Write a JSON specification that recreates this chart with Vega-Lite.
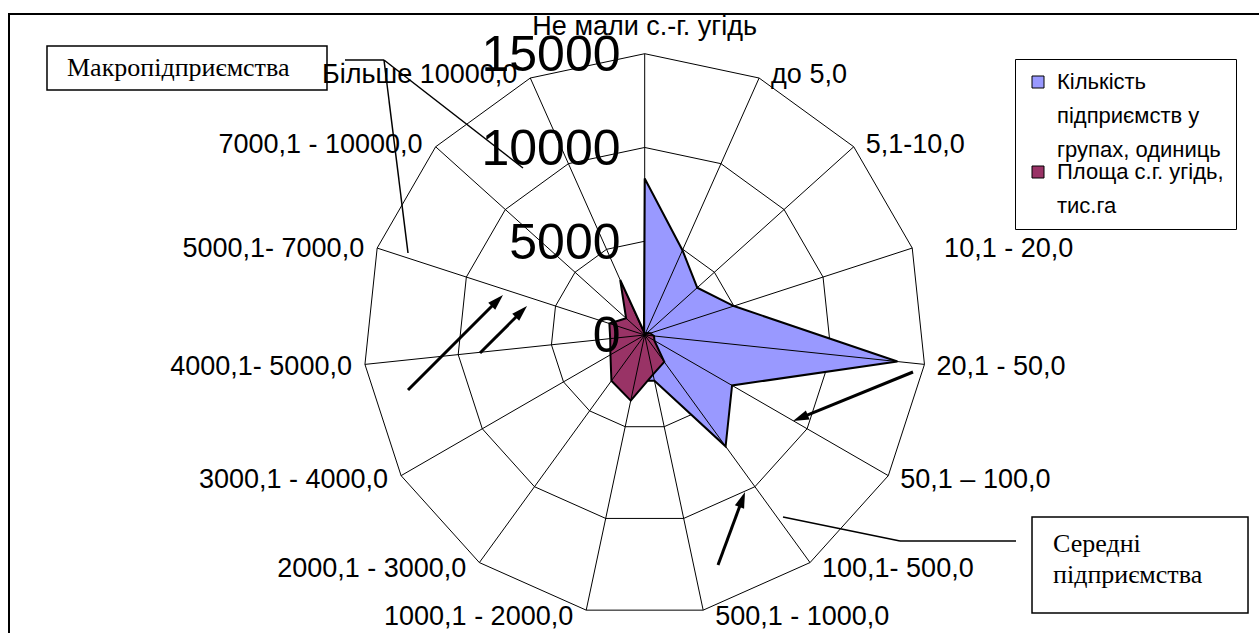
{
  "$schema": "https://vega.github.io/schema/vega-lite/v6.json",
  "width": 1259,
  "height": 633,
  "autosize": {"type": "none"},
  "padding": 0,
  "background": "white",
  "config": {
    "view": {"stroke": null},
    "font": "Liberation Sans",
    "style": {"guide-label": {"lineHeight": 34}}
  },
  "datasets": {
    "groups": [
      {"idx": 0, "cat": "Не мали с.-г. угідь", "count": 8350, "area": 100},
      {"idx": 1, "cat": "до 5,0", "count": 4950, "area": 100},
      {"idx": 2, "cat": "5,1-10,0", "count": 3770, "area": 150},
      {"idx": 3, "cat": "10,1 - 20,0", "count": 5000, "area": 300},
      {"idx": 4, "cat": "20,1 - 50,0", "count": 13550, "area": 500},
      {"idx": 5, "cat": "50,1 – 100,0", "count": 5380, "area": 600},
      {"idx": 6, "cat": "100,1- 500,0", "count": 7340, "area": 1775},
      {"idx": 7, "cat": "500,1 - 1000,0", "count": 2500, "area": 2150},
      {"idx": 8, "cat": "1000,1 - 2000,0", "count": 2500, "area": 3575},
      {"idx": 9, "cat": "2000,1 - 3000,0", "count": 1500, "area": 3020},
      {"idx": 10, "cat": "3000,1 - 4000,0", "count": 800, "area": 2110},
      {"idx": 11, "cat": "4000,1- 5000,0", "count": 500, "area": 1850},
      {"idx": 12, "cat": "5000,1- 7000,0", "count": 300, "area": 1980},
      {"idx": 13, "cat": "7000,1 - 10000,0", "count": 200, "area": 1335},
      {"idx": 14, "cat": "Більше 10000,0", "count": 100, "area": 3210}
    ],
    "frame": [{"px": -33898, "py": 17117, "px2": 33345, "py2": -16797}],
    "boxes": [
      {"name": "macro", "px": -31872, "py": 15411, "px2": -16941, "py2": 13065},
      {"name": "mid", "px": 20653, "py": -9705, "px2": 32171, "py2": -14824}
    ],
    "notes": [
      {"px": -30806, "py": 14238, "text": "Макропідприємства"},
      {"px": 21773, "py": -11145, "text": "Середні"},
      {"px": 21773, "py": -12798, "text": "підприємства"}
    ],
    "connectors": [
      {"px": -15982, "py": 14664, "px2": -13902, "py2": 14664},
      {"px": -13902, "py": 14664, "px2": -6490, "py2": 8905},
      {"px": -13902, "py": 14664, "px2": -12622, "py2": 4373},
      {"px": 19800, "py": -10985, "px2": 13614, "py2": -10985},
      {"px": 13614, "py": -10985, "px2": 7375, "py2": -9705}
    ],
    "arrows": [
      {"px": -12622, "py": -2933, "px2": -7556, "py2": 2133},
      {"px": -8783, "py": -960, "px2": -6276, "py2": 1546},
      {"px": 14307, "py": -1973, "px2": 7908, "py2": -4586},
      {"px": 3909, "py": -12265, "px2": 5349, "py2": -8372}
    ]
  },
  "encoding": {
    "x": {"field": "px", "type": "quantitative", "scale": {"domain": [-34378, 32757], "nice": false, "zero": false}, "axis": null},
    "y": {
      "field": "py", "type": "quantitative",
      "scale": {"domain": [-15891, 17864], "nice": false, "zero": false},
      "axis": {
        "values": [0, 5000, 10000, 15000], "format": "d", "orient": "left", "offset": -620,
        "domain": false, "ticks": false, "tickSize": 0, "grid": false, "title": null,
        "labelFont": "Liberation Sans", "labelFontSize": 50, "labelColor": "black",
        "labelPadding": 0, "labelBaseline": "middle", "labelOffset": 2,
        "labelFlush": false, "labelOverlap": false, "labelAlign": "right", "zindex": 1
      }
    }
  },
  "layer": [
    {
      "data": {"name": "frame"},
      "mark": {"type": "rect", "fill": null, "stroke": "black", "strokeWidth": 2},
      "encoding": {"x2": {"field": "px2"}, "y2": {"field": "py2"}}
    },
    {
      "data": {"name": "groups"},
      "transform": [
        {"calculate": "[5000, 10000, 15000]", "as": "lv"},
        {"flatten": ["lv"]},
        {"calculate": "datum.idx * 2 * PI / 15", "as": "th"},
        {"calculate": "datum.lv * sin(datum.th)", "as": "px"},
        {"calculate": "datum.lv * cos(datum.th)", "as": "py"}
      ],
      "mark": {"type": "line", "interpolate": "linear-closed", "stroke": "black", "strokeWidth": 1},
      "encoding": {
        "detail": {"field": "lv", "type": "nominal"},
        "order": {"field": "idx", "type": "quantitative"}
      }
    },
    {
      "data": {"name": "groups"},
      "transform": [
        {"fold": ["count", "area"], "as": ["key", "value"]},
        {"filter": "datum.key == 'count'"},
        {"calculate": "datum.key == 'count' ? 'Кількість підприємств у групах, одиниць' : 'Площа с.г. угідь, тис.га'", "as": "series"},
        {"calculate": "datum.idx * 2 * PI / 15", "as": "th"},
        {"calculate": "datum.value * sin(datum.th)", "as": "px"},
        {"calculate": "datum.value * cos(datum.th)", "as": "py"}
      ],
      "mark": {"type": "line", "interpolate": "linear-closed", "stroke": "black", "strokeWidth": 2},
      "encoding": {
        "fill": {
          "field": "series", "type": "nominal",
          "scale": {"domain": ["Кількість підприємств у групах, одиниць", "Площа с.г. угідь, тис.га"], "range": ["#9999ff", "#993366"]},
          "legend": {
            "orient": "none", "legendX": 1015, "legendY": 59, "title": null,
            "symbolType": "square", "symbolSize": 144, "symbolStrokeColor": "black", "symbolStrokeWidth": 1,
            "labelFont": "Liberation Sans", "labelFontSize": 22, "labelColor": "black", "labelLimit": 0,
            "strokeColor": "black", "fillColor": "white", "padding": 12, "rowPadding": -36, "labelOffset": 8,
            "labelExpr": "datum.label == 'Площа с.г. угідь, тис.га' ? ['Площа с.г. угідь,', 'тис.га'] : ['Кількість', 'підприємств у', 'групах, одиниць']"
          }
        },
        "order": {"field": "idx", "type": "quantitative"}
      }
    },
    {
      "data": {"name": "groups"},
      "transform": [
        {"fold": ["count", "area"], "as": ["key", "value"]},
        {"filter": "datum.key == 'area'"},
        {"calculate": "datum.key == 'count' ? 'Кількість підприємств у групах, одиниць' : 'Площа с.г. угідь, тис.га'", "as": "series"},
        {"calculate": "datum.idx * 2 * PI / 15", "as": "th"},
        {"calculate": "datum.value * sin(datum.th)", "as": "px"},
        {"calculate": "datum.value * cos(datum.th)", "as": "py"}
      ],
      "mark": {"type": "line", "interpolate": "linear-closed", "stroke": "black", "strokeWidth": 2},
      "encoding": {
        "fill": {
          "field": "series", "type": "nominal",
          "scale": {"domain": ["Кількість підприємств у групах, одиниць", "Площа с.г. угідь, тис.га"], "range": ["#9999ff", "#993366"]},
          "legend": {
            "orient": "none", "legendX": 1015, "legendY": 59, "title": null,
            "symbolType": "square", "symbolSize": 144, "symbolStrokeColor": "black", "symbolStrokeWidth": 1,
            "labelFont": "Liberation Sans", "labelFontSize": 22, "labelColor": "black", "labelLimit": 0,
            "strokeColor": "black", "fillColor": "white", "padding": 12, "rowPadding": -36, "labelOffset": 8,
            "labelExpr": "datum.label == 'Площа с.г. угідь, тис.га' ? ['Площа с.г. угідь,', 'тис.га'] : ['Кількість', 'підприємств у', 'групах, одиниць']"
          }
        },
        "order": {"field": "idx", "type": "quantitative"}
      }
    },
    {
      "data": {"name": "groups"},
      "transform": [
        {"calculate": "datum.idx * 2 * PI / 15", "as": "th"},
        {"calculate": "0", "as": "px"},
        {"calculate": "0", "as": "py"},
        {"calculate": "15000 * sin(datum.th)", "as": "px2"},
        {"calculate": "15000 * cos(datum.th)", "as": "py2"}
      ],
      "mark": {"type": "rule", "stroke": "black", "strokeWidth": 1},
      "encoding": {"x2": {"field": "px2"}, "y2": {"field": "py2"}}
    },
    {
      "data": {"name": "boxes"},
      "mark": {"type": "rect", "fill": "white", "stroke": "black", "strokeWidth": 1.5},
      "encoding": {"x2": {"field": "px2"}, "y2": {"field": "py2"}}
    },
    {
      "data": {"name": "notes"},
      "mark": {"type": "text", "align": "left", "baseline": "middle", "font": "Liberation Serif", "fontSize": 26, "color": "black"},
      "encoding": {"text": {"field": "text"}}
    },
    {
      "data": {"name": "groups"},
      "transform": [
        {"filter": "datum.idx == 0"},
        {"calculate": "0", "as": "px"},
        {"calculate": "16440", "as": "py"}
      ],
      "mark": {"type": "text", "align": "center", "baseline": "middle", "font": "Liberation Sans", "fontSize": 27, "color": "black"},
      "encoding": {"text": {"field": "cat"}}
    },
    {
      "data": {"name": "groups"},
      "transform": [
        {"filter": "datum.idx >= 1 && datum.idx <= 7"},
        {"calculate": "datum.idx * 2 * PI / 15", "as": "th"},
        {"calculate": "15000 * sin(datum.th) + (datum.idx == 3 ? 1060 : 0)", "as": "px"},
        {"calculate": "15000 * cos(datum.th) - (5 * (1 - cos(datum.th)) - 3) * 53.325", "as": "py"}
      ],
      "mark": {"type": "text", "align": "left", "baseline": "middle", "dx": 12, "font": "Liberation Sans", "fontSize": 27, "color": "black"},
      "encoding": {"text": {"field": "cat"}}
    },
    {
      "data": {"name": "groups"},
      "transform": [
        {"filter": "datum.idx >= 8"},
        {"calculate": "datum.idx * 2 * PI / 15", "as": "th"},
        {"calculate": "15000 * sin(datum.th)", "as": "px"},
        {"calculate": "15000 * cos(datum.th) - (5 * (1 - cos(datum.th)) - 3) * 53.325", "as": "py"}
      ],
      "mark": {"type": "text", "align": "right", "baseline": "middle", "dx": -13, "font": "Liberation Sans", "fontSize": 27, "color": "black"},
      "encoding": {"text": {"field": "cat"}}
    },
    {
      "data": {"name": "connectors"},
      "mark": {"type": "rule", "stroke": "black", "strokeWidth": 1.5},
      "encoding": {"x2": {"field": "px2"}, "y2": {"field": "py2"}}
    },
    {
      "data": {"name": "arrows"},
      "transform": [
        {"calculate": "sqrt(pow(datum.px2 - datum.px, 2) + pow(datum.py2 - datum.py, 2))", "as": "len"},
        {"calculate": "datum.px2 - (datum.px2 - datum.px) / datum.len * 640", "as": "ex"},
        {"calculate": "datum.py2 - (datum.py2 - datum.py) / datum.len * 640", "as": "ey"}
      ],
      "mark": {"type": "rule", "stroke": "black", "strokeWidth": 3},
      "encoding": {"x2": {"field": "ex"}, "y2": {"field": "ey"}}
    },
    {
      "data": {"name": "arrows"},
      "transform": [
        {"calculate": "(atan2(datum.px2 - datum.px, datum.py2 - datum.py) * 180 / PI + 360) % 360", "as": "ang"},
        {"calculate": "datum.px2", "as": "px"},
        {"calculate": "datum.py2", "as": "py"}
      ],
      "mark": {"type": "point", "shape": "M0,0L-0.8,2.6L0.8,2.6Z", "size": 150, "filled": true, "fill": "black", "stroke": null, "opacity": 1},
      "encoding": {"angle": {"field": "ang", "type": "quantitative", "scale": null}}
    }
  ]
}
